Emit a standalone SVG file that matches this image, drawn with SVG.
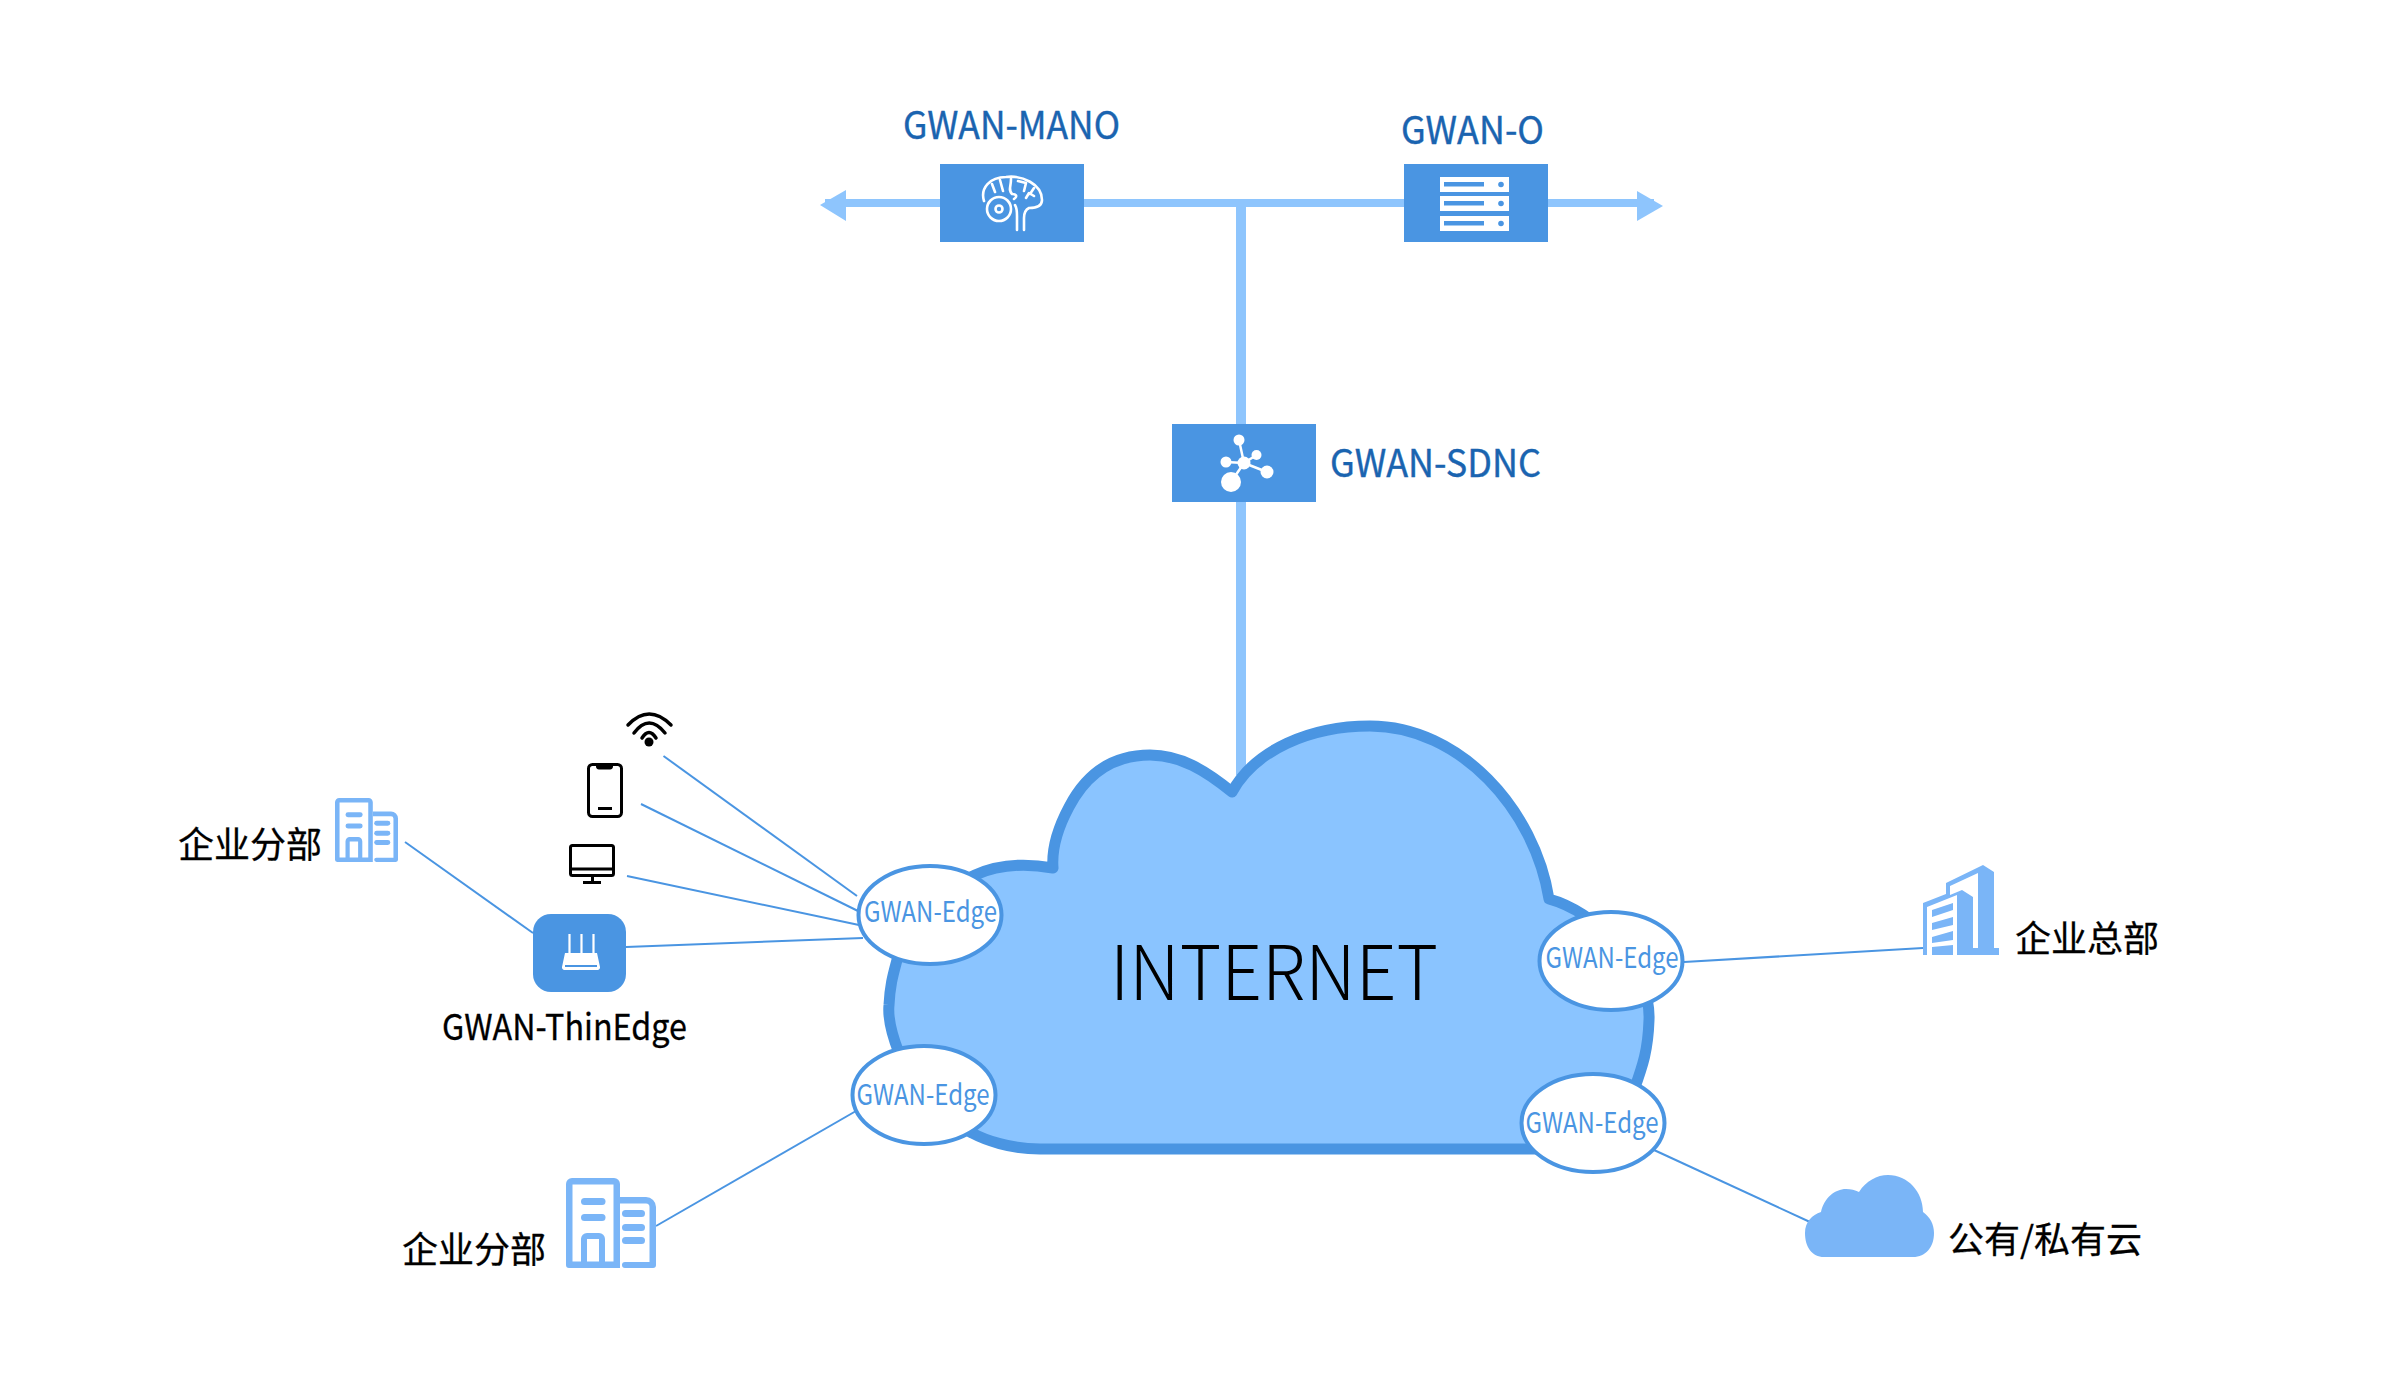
<svg xmlns="http://www.w3.org/2000/svg" xmlns:xlink="http://www.w3.org/1999/xlink" width="2400" height="1380" viewBox="0 0 2400 1380">
<style>
text{font-family:"Noto Sans CJK SC","Noto Sans",sans-serif}
.bus{fill:#8ec5fd}
.box{fill:#4a95e2}
.thin{stroke:#4a95e2;stroke-width:2;fill:none}
.edge{fill:#fff;stroke:#4a95e2;stroke-width:4}
.et{fill:#4a95e2;font-size:28.500px;text-anchor:middle}
.bl{fill:#1a64b0;font-size:38px;stroke:#1a64b0;stroke-width:.4}
.k{fill:#000;font-size:36px;stroke:#000;stroke-width:.3}
.w{fill:#fff}
.ws{fill:none;stroke:#fff;stroke-width:2.600;stroke-linecap:round;stroke-linejoin:round}
.bk{fill:none;stroke:#000;stroke-width:3}
.wf{fill:none;stroke:#000;stroke-width:3.500;stroke-linecap:round}
.ic{fill:#7ab5f7}
</style>
<defs>
<symbol id="tower" viewBox="0 0 90 90" preserveAspectRatio="none">
<path class="ic" d="M0 6a6 6 0 0 1 6-6h42a6 6 0 0 1 6 6v84H3a3 3 0 0 1-3-3zM6.500 6.500V83.500H15V61a6 6 0 0 1 6-6h12a6 6 0 0 1 6 6V83.500h8.500V6.500zM21 61V83.500h12V61z" fill-rule="evenodd"/>
<rect class="ic" x="15" y="20" width="24.500" height="7" rx="3.500"/>
<rect class="ic" x="15" y="36" width="24.500" height="7" rx="3.500"/>
<path class="ic" d="M54 19h26a10 10 0 0 1 10 10v58a3 3 0 0 1-3 3H59a3 3 0 0 1-3-3 3 3 0 0 1 3-3H83.500V29a3.500 3.500 0 0 0-3.500-3.500H54z"/>
<rect class="ic" x="56" y="32" width="23" height="7" rx="3.500"/>
<rect class="ic" x="56" y="46" width="23" height="7" rx="3.500"/>
<rect class="ic" x="56" y="59" width="23" height="7" rx="3.500"/>
</symbol>
</defs>

<g id="connectors">
<rect class="bus" x="825" y="199" width="829" height="8"/>
<path class="bus" d="M846 190V221L820 205z"/>
<path class="bus" d="M1637 191V221L1663 206z"/>
<rect class="bus" x="1236" y="205" width="10" height="570"/>
<line class="thin" x1="663.500" y1="756" x2="857" y2="896"/>
<line class="thin" x1="641" y1="804" x2="858" y2="911"/>
<line class="thin" x1="627" y1="876" x2="859" y2="925"/>
<line class="thin" x1="626" y1="947" x2="863" y2="938"/>
<line class="thin" x1="405" y1="842" x2="533" y2="933"/>
<line class="thin" x1="656" y1="1226" x2="856" y2="1111"/>
<line class="thin" x1="1684" y1="962" x2="1923" y2="948"/>
<line class="thin" x1="1654" y1="1150" x2="1810" y2="1222"/>
</g>

<g id="internet">
<path fill="#8ac4ff" stroke="#4a95e2" stroke-width="11" stroke-linejoin="round" d="M1232 792C1255 750 1310 726 1370 726C1460 726 1535 810 1549 899C1575 906 1600 925 1620 945C1640 965 1650 1000 1649 1020C1648 1050 1643 1065 1634 1090C1625 1120 1600 1149 1540 1149H1040C1010 1149 985 1140 972 1133C945 1120 910 1085 899 1053C890 1030 888 1015 889 1005C890 985 893 975 897 960C905 925 930 895 975 875C995 866 1020 862 1053 868C1052 855 1054 835 1069 807C1082 782 1105 755 1150 755C1180 755 1205 770 1232 792z"/>
<text x="1274" y="1000" text-anchor="middle" font-size="75" font-weight="300" fill="#000" textLength="328" lengthAdjust="spacingAndGlyphs">INTERNET</text>
</g>

<g id="mano">
<rect class="box" x="940" y="164" width="144" height="78"/>
<path class="ws" d="M984 201C980 188 990 177 1006 177C1022 175 1042 184 1042 200C1042 206 1036 208 1029 208C1025 210 1024 213 1024 218V230M1015 205C1017 208 1017 212 1017 216V230M992 184L995 192M1000 180L1003 191M1011 179C1011 187 1008 190 1012 194C1016 194 1018 196 1014 199M1018 181L1026 183L1024 191M1034 196L1029 193L1026 198M1030 194L1034 188"/>
<circle class="ws" cx="999" cy="209" r="12"/>
<circle class="ws" cx="999" cy="209" r="3.500"/>
<text class="bl" x="903" y="139" textLength="217" lengthAdjust="spacingAndGlyphs">GWAN-MANO</text>
</g>

<g id="o">
<rect class="box" x="1404" y="164" width="144" height="78"/>
<g id="srv">
<rect class="w" x="1440" y="177" width="69" height="15"/>
<rect class="box" x="1444" y="182" width="40" height="4.500"/>
<circle class="box" cx="1501" cy="184.500" r="2.800"/>
<rect class="w" x="1440" y="196" width="69" height="15"/>
<rect class="box" x="1444" y="201" width="40" height="4.500"/>
<circle class="box" cx="1501" cy="203.500" r="2.800"/>
<rect class="w" x="1440" y="216" width="69" height="15"/>
<rect class="box" x="1444" y="221" width="40" height="4.500"/>
<circle class="box" cx="1501" cy="223.500" r="2.800"/>
</g>
<text class="bl" x="1401" y="144" textLength="143" lengthAdjust="spacingAndGlyphs">GWAN-O</text>
</g>

<g id="sdnc">
<rect class="box" x="1172" y="424" width="144" height="78"/>
<path d="M1239 440L1244 463M1256.500 455L1244 463M1226 462L1244 463M1267 472L1244 463M1231 482L1244 463" stroke="#fff" stroke-width="2.500" fill="none"/>
<circle class="w" cx="1244" cy="463" r="6.500"/>
<circle class="w" cx="1239" cy="440" r="5.500"/>
<circle class="w" cx="1256.500" cy="455" r="5"/>
<circle class="w" cx="1226" cy="462" r="5.500"/>
<circle class="w" cx="1267" cy="472" r="6.500"/>
<circle class="w" cx="1231" cy="482" r="10"/>
<text class="bl" x="1330" y="477" textLength="211" lengthAdjust="spacingAndGlyphs">GWAN-SDNC</text>
</g>

<g id="edge1"><ellipse class="edge" cx="930" cy="915" rx="71.500" ry="49"/><text class="et" x="930.500" y="922" textLength="133" lengthAdjust="spacingAndGlyphs">GWAN-Edge</text></g>
<g id="edge2"><ellipse class="edge" cx="1611" cy="961" rx="71.500" ry="49"/><text class="et" x="1612" y="968" textLength="133" lengthAdjust="spacingAndGlyphs">GWAN-Edge</text></g>
<g id="edge3"><ellipse class="edge" cx="924" cy="1095" rx="71.500" ry="49"/><text class="et" x="923" y="1105" textLength="133" lengthAdjust="spacingAndGlyphs">GWAN-Edge</text></g>
<g id="edge4"><ellipse class="edge" cx="1593" cy="1123" rx="71.500" ry="49"/><text class="et" x="1592" y="1133" textLength="133" lengthAdjust="spacingAndGlyphs">GWAN-Edge</text></g>

<g id="thinedge">
<rect class="box" x="533" y="914" width="93" height="78" rx="18"/>
<path d="M569.500 934V955M581.500 934V955M593.500 934V955" stroke="#fff" stroke-width="2.200" fill="none"/>
<path class="w" d="M565 953H597L600 967a2.500 2.500 0 0 1-2.500 3H564.500a2.500 2.500 0 0 1-2.500-3z"/>
<rect class="box" x="565" y="965" width="32" height="2"/>
<text class="k" x="442" y="1040" textLength="245" lengthAdjust="spacingAndGlyphs">GWAN-ThinEdge</text>
</g>

<g id="wifi">
<path class="wf" d="M628 725Q649 703 671 725M634 733Q649 713 665 733M642 738Q649 727 656 738"/>
<circle cx="649" cy="742" r="4.500" fill="#000"/>
</g>

<g id="phone">
<rect class="bk" x="588.500" y="764.500" width="33" height="52" rx="4"/>
<path d="M596 765H613V766a3 3 0 0 1-3 3.500H599a3 3 0 0 1-3-3.500z" fill="#000"/>
<rect x="598" y="807" width="14" height="3" fill="#000"/>
</g>

<g id="monitor">
<rect class="bk" x="570.500" y="845.500" width="43" height="30" rx="2"/>
<path d="M570 869H614M592.500 875V882M583 882.500H601" class="bk"/>
</g>

<g id="branch1">
<text class="k" x="178" y="858">企业分部</text>
<use xlink:href="#tower" href="#tower" x="335" y="798" width="63" height="64"/>
</g>

<g id="branch2">
<text class="k" x="402" y="1263">企业分部</text>
<use xlink:href="#tower" href="#tower" x="566" y="1178" width="90" height="90"/>
</g>

<g id="hq">
<path class="ic" d="M1946 883L1983 865L1994 872V948H1999V955H1923V903L1946 894z"/>
<path class="w" d="M1950 886L1978 873V948H1973V897L1962 890L1950 895z"/>
<path class="w" d="M1927 907L1957 895V955H1927z"/>
<path class="ic" d="M1932 910L1953 903V910L1932 917zM1932 923L1953 917V925L1932 930zM1932 937L1953 931V940L1932 943zM1932 947L1953 945V955H1932z"/>
<text class="k" x="2015" y="952">企业总部</text>
</g>

<g id="cloud">
<path class="ic" d="M1824 1257C1812 1257 1805 1247 1805 1233C1805 1222 1812 1215 1821 1212C1824 1198 1835 1189 1846 1189C1851 1189 1855 1190 1859 1192C1866 1181 1877 1175 1888 1175C1908 1175 1923 1192 1923 1212C1930 1217 1934 1224 1934 1233C1934 1247 1926 1257 1913 1257z"/>
<text class="k" x="1948" y="1253">公有/私有云</text>
</g>
</svg>
